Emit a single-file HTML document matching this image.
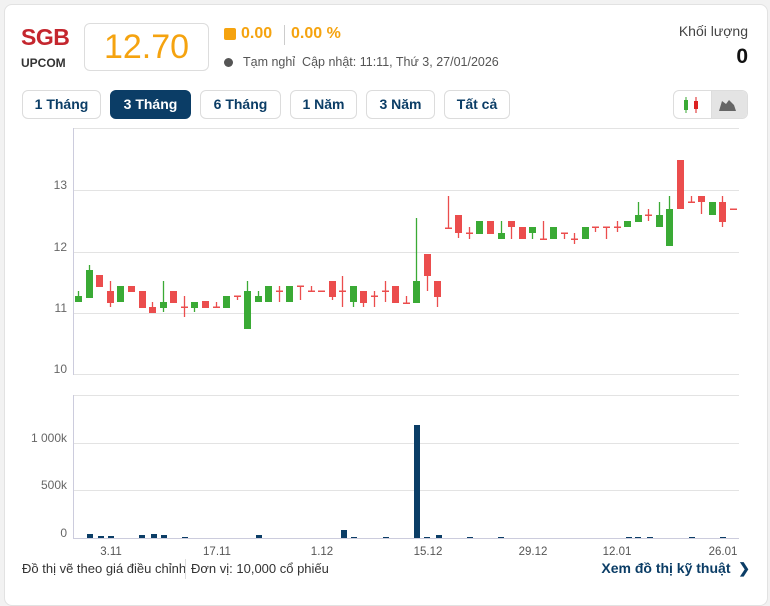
<!DOCTYPE html>
<html><head><meta charset="utf-8"><style>
body{margin:0;width:770px;height:584px;background:#f2f2f2;font-family:"Liberation Sans",sans-serif;overflow:hidden;position:relative}
.card{position:absolute;left:4px;top:4px;width:762px;height:600px;background:#fff;border:1px solid #e2e2e2;border-radius:8px}
.a{position:absolute;white-space:nowrap}
.btn{position:absolute;top:90px;height:27px;border:1px solid #dcdcdc;border-radius:6px;font-size:14px;font-weight:bold;color:#0b3d66;text-align:center;line-height:27px;box-sizing:border-box;height:29px}
</style></head><body>
<div class="card"></div>
<div class="a" style="left:21px;top:24px;font-size:23px;font-weight:bold;color:#c4262e;letter-spacing:-0.5px">SGB</div>
<div class="a" style="left:21px;top:56px;font-size:12px;font-weight:bold;color:#333">UPCOM</div>
<div class="a" style="left:84px;top:23px;width:125px;height:48px;border:1px solid #ddd;border-radius:6px;box-sizing:border-box;text-align:center;font-size:34px;color:#f5a30f;line-height:46px">12.70</div>
<div class="a" style="left:224px;top:28px;width:12px;height:12px;background:#f5a30f;border-radius:2px"></div>
<div class="a" style="left:241px;top:25px;font-size:16px;font-weight:bold;color:#f5a30f">0.00</div>
<div class="a" style="left:284px;top:25px;width:1px;height:20px;background:#ccc"></div>
<div class="a" style="left:291px;top:25px;font-size:16px;font-weight:bold;color:#f5a30f">0.00 %</div>
<div class="a" style="left:224px;top:58px;width:9px;height:9px;background:#555;border-radius:50%"></div>
<div class="a" style="left:243px;top:55px;font-size:12.5px;color:#555">Tạm nghỉ&nbsp; Cập nhật: 11:11, Thứ 3, 27/01/2026</div>
<div class="a" style="right:22px;top:23px;font-size:14px;color:#444">Khối lượng</div>
<div class="a" style="right:22px;top:45px;font-size:21px;font-weight:bold;color:#111">0</div>
<div class="btn" style="left:22px;width:79px">1 Tháng</div>
<div class="btn" style="left:110px;width:81px;background:#0b3d66;color:#fff;border-color:#0b3d66">3 Tháng</div>
<div class="btn" style="left:200px;width:81px">6 Tháng</div>
<div class="btn" style="left:290px;width:67px">1 Năm</div>
<div class="btn" style="left:366px;width:69px">3 Năm</div>
<div class="btn" style="left:444px;width:66px">Tất cả</div>
<div class="a" style="left:673px;top:90px;width:75px;height:29px;border:1px solid #ddd;border-radius:6px;box-sizing:border-box;overflow:hidden">
<div class="a" style="left:37px;top:0;width:38px;height:29px;background:#e4e4e4;border-left:1px solid #ddd"></div>
<svg class="a" style="left:0;top:0" width="75" width="75" height="29"><rect x="10" y="9" width="4" height="10" fill="#3aaa35"/><line x1="12" y1="6" x2="12" y2="22" stroke="#3aaa35"/><rect x="20" y="10" width="4" height="8" fill="#d22"/><line x1="22" y1="6" x2="22" y2="22" stroke="#d22"/><path d="M45 20 L48 10 L52 13 L55 9 L60 14 L62 20Z" fill="#666"/></svg></div>

<svg class="a" style="left:0;top:0" width="770" height="584">
<g stroke="#e3e3e3" stroke-width="1">
<line x1="73" y1="128.5" x2="739" y2="128.5"/><line x1="73" y1="190.5" x2="739" y2="190.5"/><line x1="73" y1="252.5" x2="739" y2="252.5"/><line x1="73" y1="313.5" x2="739" y2="313.5"/><line x1="73" y1="374.5" x2="739" y2="374.5"/>
<line x1="73" y1="395.5" x2="739" y2="395.5"/><line x1="73" y1="443.5" x2="739" y2="443.5"/><line x1="73" y1="490.5" x2="739" y2="490.5"/>
</g>
<g stroke="#ccd" stroke-width="1"><line x1="73.5" y1="128" x2="73.5" y2="375"/><line x1="73.5" y1="395" x2="73.5" y2="539"/><line x1="73" y1="538.5" x2="739" y2="538.5"/></g>
<g font-size="12" fill="#666" text-anchor="end" font-family="Liberation Sans">
<text x="67" y="189">13</text><text x="67" y="251">12</text><text x="67" y="312">11</text><text x="67" y="373">10</text>
<text x="67" y="442">1 000k</text><text x="67" y="489">500k</text><text x="67" y="537">0</text>
</g>
<g font-size="11.5" fill="#555" text-anchor="middle" font-family="Liberation Sans">
<text x="111" y="555">3.11</text><text x="217" y="555">17.11</text><text x="322" y="555">1.12</text><text x="428" y="555">15.12</text><text x="533" y="555">29.12</text><text x="617" y="555">12.01</text><text x="723" y="555">26.01</text>
</g>
<g fill="#0b3d66">
<rect x="87" y="534" width="6" height="4"/><rect x="98" y="536" width="6" height="2"/><rect x="108" y="536" width="6" height="2"/><rect x="139" y="535" width="6" height="3"/><rect x="151" y="534" width="6" height="4"/><rect x="161" y="535" width="6" height="3"/><rect x="182" y="537" width="6" height="1"/><rect x="256" y="535" width="6" height="3"/><rect x="341" y="530" width="6" height="8"/><rect x="351" y="537" width="6" height="1"/><rect x="383" y="537" width="6" height="1"/><rect x="414" y="425" width="6" height="113"/><rect x="424" y="537" width="6" height="1"/><rect x="436" y="535" width="6" height="3"/><rect x="467" y="537" width="6" height="1"/><rect x="498" y="537" width="6" height="1"/><rect x="626" y="537" width="6" height="1"/><rect x="635" y="537" width="6" height="1"/><rect x="647" y="537" width="6" height="1"/><rect x="689" y="537" width="6" height="1"/><rect x="720" y="537" width="6" height="1"/>
</g>
<g id="c"></g>
</svg>
<svg class="a" style="left:0;top:0" width="770" height="584" id="cs"></svg>
<div class="a" style="left:22px;top:561px;font-size:13px;color:#333">Đồ thị vẽ theo giá điều chỉnh</div>
<div class="a" style="left:185px;top:559px;width:1px;height:20px;background:#ddd"></div>
<div class="a" style="left:191px;top:561px;font-size:13px;color:#333">Đơn vị: 10,000 cổ phiếu</div>
<div class="a" style="right:20px;top:560px;font-size:14px;font-weight:bold;color:#0b3d66">Xem đồ thị kỹ thuật&nbsp; ❯</div>
<script>
var d=[[78,'G',296,302,291,302],[89,'G',270,298,265,298],[99,'R',275,287],[110,'R',291,303,281,307],[120,'G',286,302],[131,'R',286,292],[142,'R',291,308],[152,'R',307,313,302,313],[163,'G',302,308,281,312],[173,'R',291,303],[184,'R',307,307,296,317],[194,'G',302,308,302,312],[205,'R',301,308],[216,'R',307,307,302,308],[226,'G',296,308],[237,'R',296,296,296,300],[247,'G',291,329,281,329],[258,'G',296,302,291,302],[268,'G',286,302],[279,'R',291,291,286,302],[289,'G',286,302],[300,'R',286,286,286,300],[311,'R',291,291,286,291],[321,'R',291,291],[332,'R',281,297,281,300],[342,'R',291,291,276,307],[353,'G',286,302,286,307],[363,'R',291,303,291,307],[374,'R',296,296,291,307],[385,'R',291,291,281,302],[395,'R',286,303],[406,'R',303,303,296,303],[416,'G',281,303,218,303],[427,'R',254,276,254,291],[437,'R',281,297,281,307],[448,'R',228,228,196,228],[458,'R',215,233,215,238],[469,'R',233,233,227,239],[479,'G',221,234],[490,'R',221,234],[501,'G',233,239,221,239],[511,'R',221,227,221,239],[522,'R',227,239],[532,'G',227,233,227,239],[543,'R',239,239,221,239],[553,'G',227,239],[564,'R',233,233,233,239],[574,'R',239,239,233,244],[585,'G',227,239],[595,'R',227,227,227,232],[606,'R',227,227,227,239],[617,'R',227,227,221,232],[627,'G',221,227],[638,'G',215,222,202,222],[648,'R',215,215,209,221],[659,'G',215,227,202,227],[669,'G',209,246,196,246],[680,'R',160,209],[691,'R',202,202,196,202],[701,'R',196,202,196,214],[712,'G',202,215],[722,'R',202,222,196,227],[733,'R',209,209]];
var s='';d.forEach(function(c){var col=c[1]=='G'?'#3aaa35':'#eb4d4d';var t=c[2],b=c[3];var wt=c.length>4?c[4]:t,wb=c.length>4?c[5]:b;
s+='<line x1="'+(c[0]+.5)+'" y1="'+wt+'" x2="'+(c[0]+.5)+'" y2="'+wb+'" stroke="'+col+'" stroke-width="1.3"/>';
var h=b-t;if(h<1.5){h=1.5;t=t-0.5;}s+='<rect x="'+(c[0]-3)+'" y="'+t+'" width="7" height="'+h+'" fill="'+col+'"/>';});
document.getElementById('cs').innerHTML=s;
</script>
</body></html>
